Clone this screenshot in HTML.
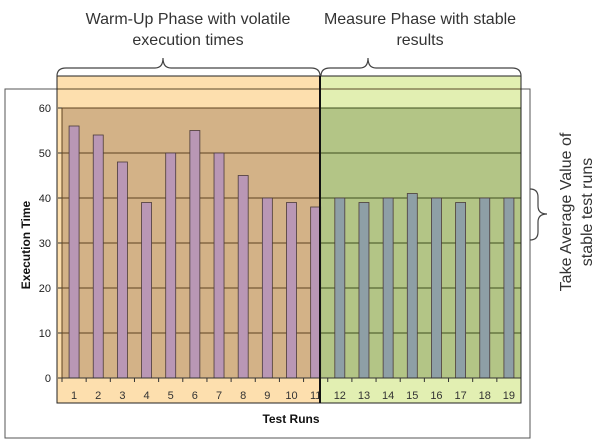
<!DOCTYPE html>
<html><head><meta charset="utf-8"><style>
html,body{margin:0;padding:0;background:#fff;}
svg{display:block;font-family:"Liberation Sans",sans-serif;}
</style></head><body>
<svg id="chart" width="600" height="444" viewBox="0 0 600 444">
  <rect x="5" y="89" width="525" height="349" fill="#fff" stroke="#555" stroke-width="1"/>
  <rect x="57" y="76" width="263" height="327" fill="#fddfae"/>
  <rect x="320" y="76" width="201" height="327" fill="#e2efb2"/>
  <rect x="62" y="108" width="258" height="270" fill="#d3b287"/>
  <rect x="320" y="108" width="201" height="270" fill="#b3c586"/>
  <line x1="57" y1="89" x2="521" y2="89" stroke="#5a4a2a" stroke-width="1"/>
  <g id="grid"></g>
  <g id="bars"></g>
  <g id="axes"></g>
  <rect x="57" y="76" width="263" height="327" fill="none" stroke="#222" stroke-width="1"/>
  <rect x="320" y="76" width="201" height="327" fill="none" stroke="#222" stroke-width="1"/>
  <line x1="320" y1="76" x2="320" y2="403" stroke="#111" stroke-width="2"/>
  <text x="291" y="423" font-size="12" font-weight="bold" text-anchor="middle" fill="#111">Test Runs</text>
  <text transform="translate(30,245) rotate(-90)" font-size="12" font-weight="bold" text-anchor="middle" fill="#111">Execution Time</text>
  <g font-size="16" fill="#333" text-anchor="middle">
    <text x="188" y="24">Warm-Up Phase with volatile</text>
    <text x="188" y="45">execution times</text>
    <text x="420" y="24">Measure Phase with stable</text>
    <text x="420" y="45">results</text>
    <text transform="translate(571,212) rotate(-90)">Take Average Value of</text>
    <text transform="translate(592,212) rotate(-90)">stable test runs</text>
  </g>
  <path d="M57 76 Q57 68 66 68 L155 68 Q163 68 163 58 Q163 68 171 68 L311 68 Q320 68 320 76" fill="none" stroke="#444" stroke-width="1.2"/>
  <path d="M321 76 Q321 68 330 68 L360 68 Q368 68 368 58 Q368 68 376 68 L512 68 Q521 68 521 76" fill="none" stroke="#444" stroke-width="1.2"/>
  <path d="M530 189 Q538 189 538 197 L538 206 Q538 214 547 214 Q538 214 538 222 L538 232 Q538 240 530 240" fill="none" stroke="#444" stroke-width="1.2"/>
</svg>
<script>
const categories = ["1","2","3","4","5","6","7","8","9","10","11","12","13","14","15","16","17","18","19"];
const values = [56,54,48,39,50,55,50,45,40,39,38,40,39,40,41,40,39,40,40];
const phases = ["warmup","warmup","warmup","warmup","warmup","warmup","warmup","warmup","warmup","warmup","warmup","measure","measure","measure","measure","measure","measure","measure","measure"];
const yTicks = [0,10,20,30,40,50,60];

const NS = "http://www.w3.org/2000/svg";
const X0 = 62, X1 = 521, Y0 = 378, Y1 = 108, YMAX = 60;
const band = (X1 - X0) / categories.length;
const xScale = i => X0 + band * (i + 0.5);
const yScale = v => Y0 - (v / YMAX) * (Y0 - Y1);
function mk(tag, attrs, parent) {
  const e = document.createElementNS(NS, tag);
  for (const k in attrs) e.setAttribute(k, attrs[k]);
  parent.appendChild(e);
  return e;
}
const grid = document.getElementById("grid");
const bars = document.getElementById("bars");
const axes = document.getElementById("axes");

yTicks.forEach(t => {
  const y = yScale(t);
  if (t > 0) {
    const g1 = mk("line", {x1: X0, y1: y, x2: 320, y2: y, stroke: "#5e4320", "stroke-width": 1}, grid);
    
    
    const g2 = mk("line", {x1: 320, y1: y, x2: X1, y2: y, stroke: "#3f4f1f", "stroke-width": 1}, grid);
    
    
  }
  const lb = mk("text", {x: 51, y: y + 4, "font-size": 11, "text-anchor": "end", fill: "#222"}, axes);
  lb.textContent = t;
  
  
  const tk = mk("line", {x1: X0 - 4, y1: y, x2: X0, y2: y, stroke: "#333"}, axes);
  
  
});

const ya = mk("line", {x1: X0, y1: Y1, x2: X0, y2: Y0, stroke: "#5e4320"}, axes);


const xa = mk("line", {x1: X0, y1: Y0, x2: X1, y2: Y0, stroke: "#333"}, axes);



categories.forEach((c, i) => {
  const cx = xScale(i);
  const y = yScale(values[i]);
  const r = mk("rect", {x: cx - 5, y: y, width: 10, height: Y0 - y,
    fill: phases[i] === "warmup" ? "#b997b5" : "#8e9fa6", stroke: "#4a3a3a", "stroke-width": 0.8}, bars);
  
  
  const tk = mk("line", {x1: X0 + band * i, y1: Y0, x2: X0 + band * i, y2: Y0 + 4, stroke: "#333"}, axes);
  
  
  const lb = mk("text", {x: cx, y: 399, "font-size": 11, "text-anchor": "middle", fill: "#333"}, axes);
  lb.textContent = c;
  
  
});
</script>
</body></html>
